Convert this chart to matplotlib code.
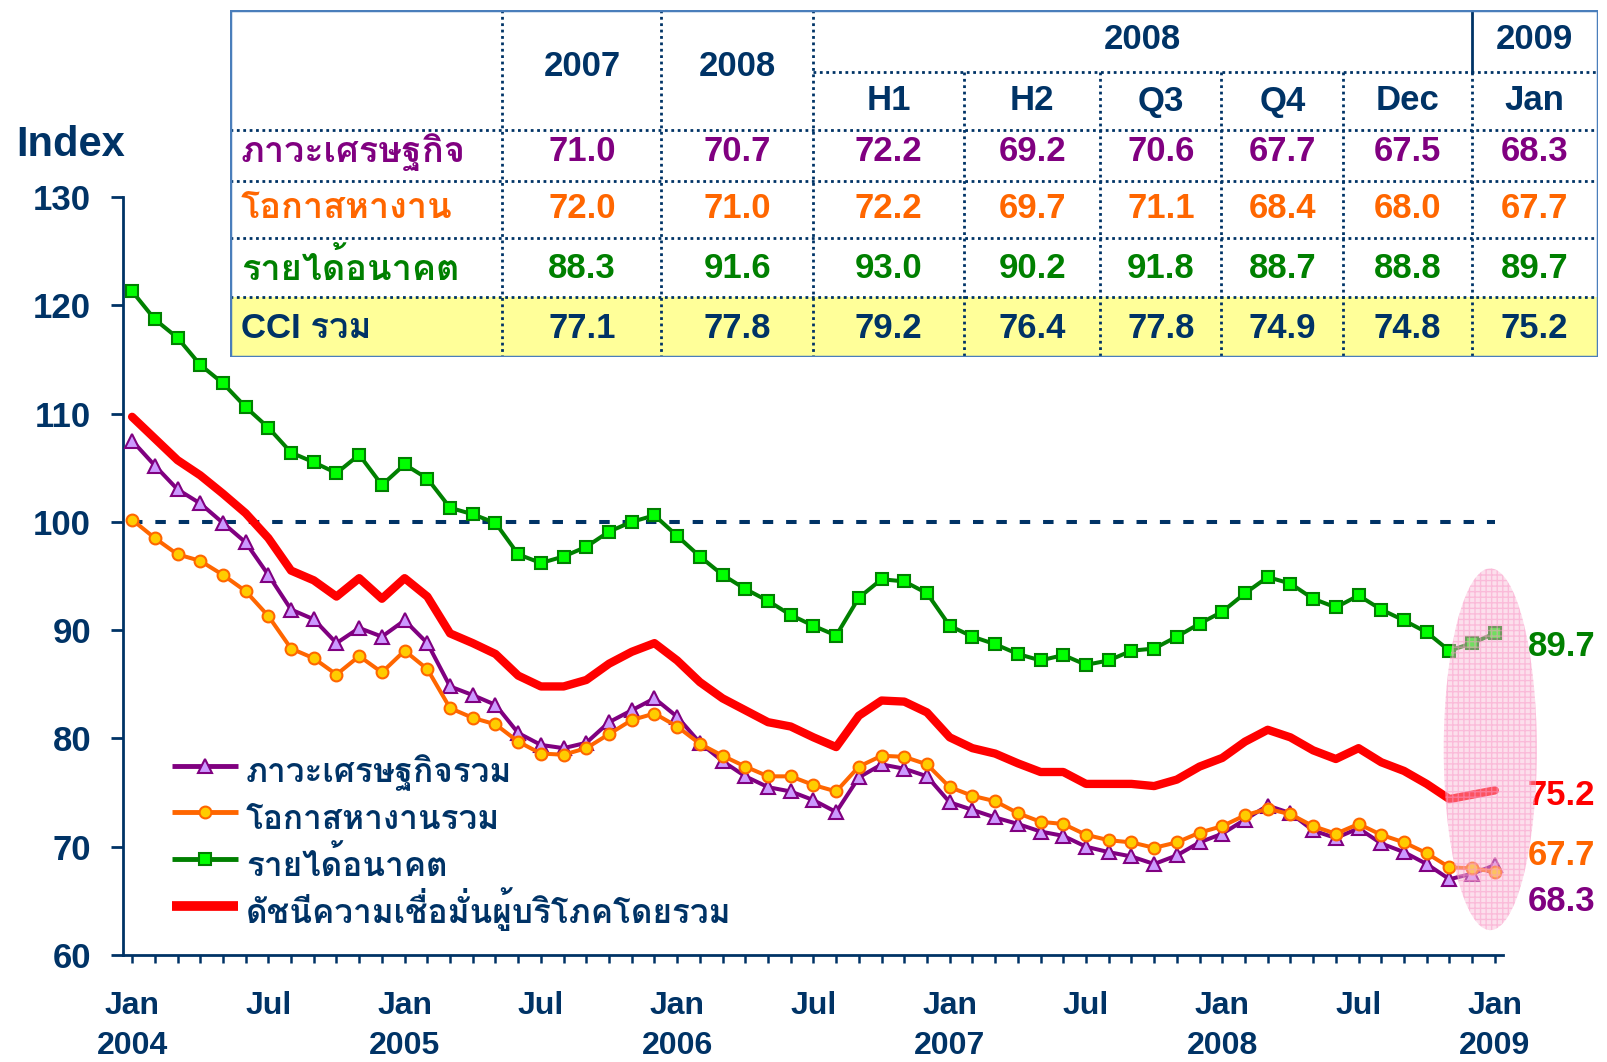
import matplotlib
matplotlib.use("Agg")
import matplotlib.pyplot as plt
from matplotlib import font_manager
from matplotlib.patches import Ellipse, Rectangle
from matplotlib.lines import Line2D

# ---------------- data ----------------
economy = [107.5,105.2,103.0,101.7,99.9,98.1,95.1,91.9,91.0,88.8,
           90.2,89.4,90.9,88.8,84.8,84.0,83.1,80.5,79.4,79.1,
           79.6,81.5,82.6,83.7,82.0,79.6,77.9,76.5,75.5,75.1,
           74.3,73.2,76.4,77.6,77.2,76.5,74.1,73.4,72.7,72.1,
           71.4,71.0,70.0,69.5,69.1,68.4,69.2,70.4,71.2,72.5,
           73.8,73.1,71.5,70.8,71.7,70.3,69.5,68.4,67.0,67.5,68.3]
jobs = [100.2,98.5,97.0,96.4,95.1,93.6,91.3,88.3,87.4,85.9,
        87.6,86.1,88.1,86.4,82.8,81.9,81.3,79.7,78.6,78.5,
        79.1,80.4,81.7,82.3,81.1,79.5,78.4,77.4,76.5,76.5,
        75.7,75.1,77.4,78.4,78.3,77.6,75.5,74.7,74.2,73.1,
        72.3,72.1,71.1,70.6,70.4,69.9,70.4,71.3,71.9,72.9,
        73.5,73.0,71.9,71.2,72.1,71.1,70.4,69.4,68.1,68.0,67.7]
income = [121.3,118.7,117.0,114.5,112.8,110.6,108.7,106.4,105.5,104.5,
          106.2,103.4,105.3,104.0,101.3,100.7,99.9,97.0,96.2,96.8,
          97.7,99.1,100.0,100.6,98.7,96.8,95.1,93.8,92.7,91.4,
          90.4,89.5,93.0,94.7,94.5,93.4,90.4,89.4,88.7,87.8,
          87.2,87.7,86.8,87.2,88.1,88.3,89.4,90.6,91.7,93.4,
          94.9,94.3,92.9,92.1,93.2,91.9,90.9,89.8,88.1,88.8,89.7]
cci = [109.7,107.7,105.7,104.3,102.6,100.8,98.5,95.5,94.6,93.1,
       94.8,92.9,94.8,93.1,89.7,88.8,87.8,85.8,84.8,84.8,
       85.4,86.9,88.0,88.8,87.2,85.2,83.7,82.6,81.5,81.1,
       80.1,79.2,82.1,83.5,83.4,82.4,80.1,79.1,78.6,77.7,
       76.9,76.9,75.8,75.8,75.8,75.6,76.2,77.4,78.2,79.7,
       80.8,80.1,78.9,78.1,79.1,77.8,77.0,75.8,74.4,74.8,75.2]

legend_labels = ["ภาวะเศรษฐกิจรวม", "โอกาสหางานรวม", "รายได้อนาคต",
                 "ดัชนีความเชื่อมั่นผู้บริโภคโดยรวม"]
xtick_pos = [0, 6, 12, 18, 24, 30, 36, 42, 48, 54, 60]
xtick_labels = ["Jan\n2004", "Jul", "Jan\n2005", "Jul", "Jan\n2006", "Jul",
                "Jan\n2007", "Jul", "Jan\n2008", "Jul", "Jan\n2009"]
yticks = [60, 70, 80, 90, 100, 110, 120, 130]

table_years = ["2007", "2008"]
table_group = "2008"
table_group2 = "2009"
table_periods = ["H1", "H2", "Q3", "Q4", "Dec", "Jan"]
row_names = ["ภาวะเศรษฐกิจ", "โอกาสหางาน", "รายได้อนาคต", "CCI รวม"]
row_economy = ["71.0", "70.7", "72.2", "69.2", "70.6", "67.7", "67.5", "68.3"]
row_jobs = ["72.0", "71.0", "72.2", "69.7", "71.1", "68.4", "68.0", "67.7"]
row_income = ["88.3", "91.6", "93.0", "90.2", "91.8", "88.7", "88.8", "89.7"]
row_cci = ["77.1", "77.8", "79.2", "76.4", "77.8", "74.9", "74.8", "75.2"]

# ---------------- fonts ----------------
def thai_fonts():
    names = []
    try:
        from fontTools.ttLib import TTFont
    except Exception:
        return names
    for f in font_manager.fontManager.ttflist:
        try:
            tt = TTFont(f.fname, fontNumber=0, lazy=True)
            cm = tt.getBestCmap()
            if cm and 0x0E01 in cm and 0x0E40 in cm and f.name not in names:
                names.append(f.name)
        except Exception:
            pass
    return names

th = thai_fonts()
families = ["Liberation Sans"] + th + ["DejaVu Sans"]
plt.rcParams["font.family"] = families
plt.rcParams["font.weight"] = "bold"

NAVY = "#003366"
PURPLE = "#800080"
ORANGE = "#FF6600"
GREEN = "#008000"
RED = "#FF0000"

W, H = 1608, 1062
fig = plt.figure(figsize=(W / 100, H / 100), dpi=100)

# ---------------- main axes ----------------
ax_l, ax_r, ax_b, ax_t = 123, 1503, 955, 197
ax = fig.add_axes([ax_l / W, 1 - ax_b / H, (ax_r - ax_l) / W, (ax_b - ax_t) / H])
n = len(cci)
x = list(range(n))

ax.plot(x, [100] * n, color=NAVY, lw=2.9, ls=(0, (2.6, 3.2)), zorder=2)

styles = [
    dict(color=PURPLE, marker="^", ms=10, mfc="#CC99FF", mec=PURPLE, mew=1.5),
    dict(color=ORANGE, marker="o", ms=8.5, mfc="#FFCC00", mec=ORANGE, mew=1.5),
    dict(color=GREEN, marker="s", ms=8.5, mfc="#00FF00", mec=GREEN, mew=1.5),
    dict(color=RED, marker=None),
]
ax.plot(x, economy, lw=2.9, zorder=4, **styles[0])
ax.plot(x, jobs, lw=2.9, zorder=5, **styles[1])
ax.plot(x, income, lw=2.9, zorder=4, **styles[2])
ax.plot(x, cci, lw=6.0, zorder=3, solid_joinstyle="round", solid_capstyle="round",
        **styles[3])

# highlight ellipse on latest months
top = income[-1]
bot = economy[-1]
ell = Ellipse((n - 1 - 0.2, (top + bot) / 2), width=4.1, height=(top - bot) + 12,
              facecolor=(0.98, 0.72, 0.84, 0.45), edgecolor=(0.98, 0.6, 0.78, 0.5),
              lw=0, hatch="+++", zorder=6, clip_on=False)
ax.add_patch(ell)

# end labels
end_kw = dict(fontsize=25, fontweight="bold", ha="left", va="center",
              transform=ax.transData, clip_on=False)
lx = n - 1 + 1.45
ax.text(lx, income[-1] - 1.2, f"{income[-1]:.1f}", color=GREEN, **end_kw)
ax.text(lx, cci[-1] - 0.45, f"{cci[-1]:.1f}", color=RED, **end_kw)
ax.text(lx, jobs[-1] + 1.5, f"{jobs[-1]:.1f}", color=ORANGE, **end_kw)
ax.text(lx, economy[-1] - 3.4, f"{economy[-1]:.1f}", color=PURPLE, **end_kw)

ax.set_xlim(-0.4, n - 1 + 0.36)
ax.set_ylim(60, 130)
ax.set_yticks(yticks)
ax.set_yticklabels([str(v) for v in yticks])
ax.set_xticks(xtick_pos)
ax.set_xticklabels(xtick_labels)
ax.set_xticks(x, minor=True)
for s in ["top", "right"]:
    ax.spines[s].set_visible(False)
for s in ["left", "bottom"]:
    ax.spines[s].set_color(NAVY)
    ax.spines[s].set_linewidth(2)
ax.tick_params(axis="y", direction="out", length=9, width=2, color=NAVY,
               labelcolor=NAVY, labelsize=25, pad=14)
ax.tick_params(axis="x", which="major", direction="out", length=6, width=1.8,
               color=NAVY, labelcolor=NAVY, labelsize=23, pad=20)
ax.tick_params(axis="x", which="minor", direction="out", length=6, width=1.8,
               color=NAVY)
for t in ax.get_yticklabels() + ax.get_xticklabels():
    t.set_fontweight("bold")
for t in ax.get_xticklabels():
    t.set_linespacing(1.42)

fig.text(16 / W, 1 - 156 / H, "Index", color=NAVY, fontsize=30,
         fontweight="bold", ha="left", va="baseline")

# manual legend (axes fraction)
leg_x0, leg_x1, leg_tx = 0.0355, 0.0833, 0.0891
leg_y0, leg_dy, leg_base = 0.250, 0.0618, 0.022
leg_lw = [3.5, 3.5, 3.5, 7]
for i, (lab, st) in enumerate(zip(legend_labels, styles)):
    yy = leg_y0 - i * leg_dy
    ax.add_line(Line2D([leg_x0, leg_x1], [yy, yy], transform=ax.transAxes,
                       lw=leg_lw[i], solid_capstyle="butt", zorder=7,
                       **{k: v for k, v in st.items() if k != "marker"}))
    if st["marker"]:
        ax.add_line(Line2D([(leg_x0 + leg_x1) / 2], [yy], transform=ax.transAxes,
                           lw=0, zorder=8, **st))
    ax.text(leg_tx, yy - leg_base, lab, transform=ax.transAxes, color=NAVY,
            fontsize=24, fontweight="bold", ha="left", va="baseline")

# ---------------- table ----------------
tl, tr, tt, tb = 229.7, 1597.8, 10.3, 356.9
tax = fig.add_axes([tl / W, 1 - tb / H, (tr - tl) / W, (tb - tt) / H])
tw, thh = tr - tl, tb - tt
tax.set_xlim(0, tw)
tax.set_ylim(thh, 0)
tax.axis("off")

cols = [0, 272.8, 431.8, 583.5, 734.3, 870.7, 991.7, 1113.7, 1241.9, tw]
rows = [0, 61.5, 119.9, 171.2, 227.6, 287.1, thh]
dot_kw = dict(color=NAVY, lw=2, ls=(0, (1, 1.3)), zorder=3)

tax.add_patch(Rectangle((0, rows[5]), tw, rows[6] - rows[5],
                        facecolor="#FFFF99", edgecolor="none", zorder=1))
# horizontal dotted lines
tax.plot([cols[3], tw], [rows[1], rows[1]], **dot_kw)
for r in rows[2:6]:
    tax.plot([0, tw], [r, r], **dot_kw)
# vertical lines
for c in cols[1:4]:
    tax.plot([c, c], [0, thh], **dot_kw)
for c in cols[4:9]:
    tax.plot([c, c], [rows[1], thh], **dot_kw)
tax.plot([cols[8], cols[8]], [0, rows[1]], color=NAVY, lw=2, zorder=3)
tax.add_patch(Rectangle((0, 0), tw, thh, facecolor="none",
                        edgecolor="#4A7EBB", lw=2.5, zorder=4))

fs = 25
def ctext(xc, yc, s, color):
    tax.text(xc, yc, s, ha="center", va="center", color=color, fontsize=fs,
             fontweight="bold", zorder=5)

ctext((cols[1] + cols[2]) / 2, (rows[0] + rows[2]) / 2 - 4, table_years[0], NAVY)
ctext((cols[2] + cols[3]) / 2, (rows[0] + rows[2]) / 2 - 4, table_years[1], NAVY)
ctext((cols[3] + cols[8]) / 2, (rows[0] + rows[1]) / 2 - 2, table_group, NAVY)
ctext((cols[8] + cols[9]) / 2, (rows[0] + rows[1]) / 2 - 2, table_group2, NAVY)
for i, p in enumerate(table_periods):
    ctext((cols[3 + i] + cols[4 + i]) / 2, (rows[1] + rows[2]) / 2, p, NAVY)

table_rows = [row_economy, row_jobs, row_income, row_cci]
row_colors = [PURPLE, ORANGE, GREEN, NAVY]
row_off = [-4, -1, 1, 1]
name_size = [26, 26, 26, 25]
for r, (vals, col, name) in enumerate(zip(table_rows, row_colors, row_names)):
    yc = (rows[2 + r] + rows[3 + r]) / 2 + row_off[r]
    tax.text(11, yc, name, ha="left", va="center", color=col, fontsize=name_size[r],
             fontweight="bold", zorder=5)
    for j, v in enumerate(vals):
        ctext((cols[1 + j] + cols[2 + j]) / 2, yc, v, col)

fig.savefig("out.png", dpi=100)
